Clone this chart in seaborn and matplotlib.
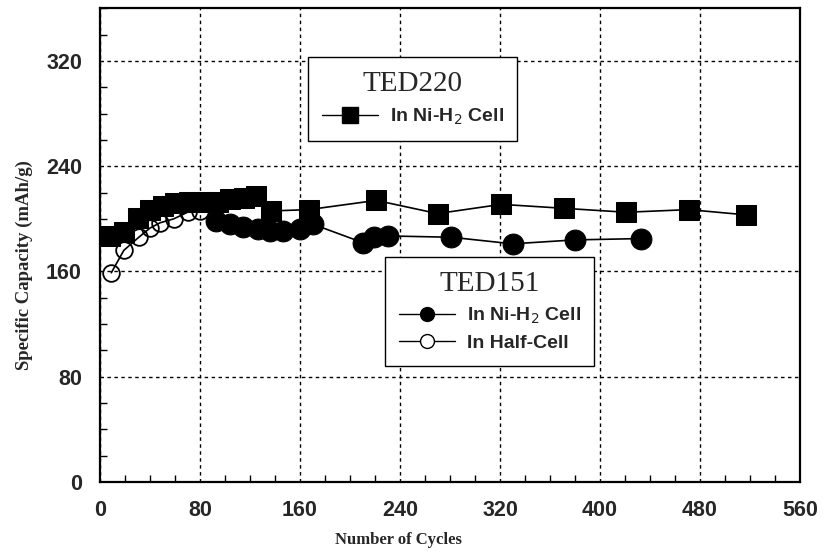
import numpy as np
import pandas as pd
import matplotlib
matplotlib.use("Agg")
import matplotlib.pyplot as plt
import seaborn as sns
from matplotlib.ticker import MultipleLocator
from matplotlib.lines import Line2D

# TED220 - In Ni-H2 Cell (squares)
ted220_cycles = [8, 19, 30, 40, 50, 60, 71, 82, 94, 104, 115, 125, 137, 167, 221, 270, 321, 371, 421, 471, 517]
ted220_capacity = [187, 190, 201, 207, 210, 212, 213, 213, 213, 215, 216, 217, 206, 207, 214, 204, 211, 208, 205, 207, 203]

# TED151 - In Ni-H2 Cell (filled circles)
ted151_nih2_cycles = [93, 104, 114, 126, 136, 146, 160, 170, 210, 219, 230, 281, 330, 380, 433]
ted151_nih2_capacity = [198, 196, 194, 192, 191, 191, 192, 196, 182, 186, 187, 186, 181, 184, 185]

# TED151 - In Half-Cell (open circles)
ted151_half_cycles = [9, 19, 31, 40, 48, 59, 70, 80]
ted151_half_capacity = [159, 176, 186, 193, 197, 200, 205, 206]

df220 = pd.DataFrame({'cycles': ted220_cycles, 'capacity': ted220_capacity})
df151 = pd.DataFrame({'cycles': ted151_nih2_cycles, 'capacity': ted151_nih2_capacity})
dfhalf = pd.DataFrame({'cycles': ted151_half_cycles, 'capacity': ted151_half_capacity})

sns.set_style('white')
plt.rcParams['font.family'] = ['Liberation Sans', 'DejaVu Sans']

fig = plt.figure(figsize=(8.24, 5.54), dpi=100)
ax = fig.add_axes([0.1214, 0.13, 0.8495, 0.855])

sns.lineplot(data=dfhalf, x='cycles', y='capacity', ax=ax, color='black', lw=1.2,
             marker='o', markersize=12, markerfacecolor='none', markeredgecolor='black',
             markeredgewidth=1.3, estimator=None, zorder=3)
sns.lineplot(data=df151, x='cycles', y='capacity', ax=ax, color='black', lw=1.2,
             marker='o', markersize=15, markerfacecolor='black', markeredgecolor='black',
             estimator=None, zorder=4)
sns.lineplot(data=df220, x='cycles', y='capacity', ax=ax, color='black', lw=1.2,
             marker='s', markersize=14, markerfacecolor='black', markeredgecolor='black',
             estimator=None, zorder=5)

ax.set_xlim(0, 560)
ax.set_ylim(0, 360)
ax.xaxis.set_major_locator(MultipleLocator(80))
ax.xaxis.set_minor_locator(MultipleLocator(20))
ax.yaxis.set_major_locator(MultipleLocator(80))
ax.yaxis.set_minor_locator(MultipleLocator(20))
ax.set_yticks([0, 80, 160, 240, 320])

ax.grid(True, which='major', color='black', linestyle=(0, (2.5, 2.5)), linewidth=1)
ax.tick_params(which='both', direction='in', color='black', top=False, right=False,
               bottom=True, left=True)
ax.tick_params(which='major', length=0, labelsize=15.5, pad=13)
ax.tick_params(which='minor', length=5, width=1)
for lbl in ax.get_xticklabels() + ax.get_yticklabels():
    lbl.set_fontweight('bold')
for sp in ax.spines.values():
    sp.set_color('black')
    sp.set_linewidth(1.6)

ax.set_xlabel('Number of Cycles', family='Liberation Serif', fontweight='bold', fontsize=12)
ax.set_ylabel('Specific Capacity (mAh/g)', family='Liberation Serif', fontweight='bold', fontsize=13.5)
ax.xaxis.set_label_coords(0.427, -0.1055)
ax.yaxis.set_label_coords(-0.096, 0.458)

# Legends
h220 = [Line2D([], [], color='black', lw=1, marker='s', markersize=11.5,
               markerfacecolor='black')]
leg1 = ax.legend(h220, ['In Ni-H$_2$ Cell'], loc='upper left',
                 bbox_to_anchor=(0.297, 0.8966), borderaxespad=0, frameon=True, fancybox=False,
                 edgecolor='black', framealpha=1, handlelength=2.9, handletextpad=0.6,
                 borderpad=0.7, prop={'family': 'Liberation Sans', 'weight': 'bold', 'size': 14},
                 title='TED220', title_fontproperties={'family': 'Liberation Serif', 'size': 21})
leg1.get_frame().set_linewidth(1)
ax.add_artist(leg1)

h151 = [Line2D([], [], color='black', lw=1, marker='o', markersize=10,
               markerfacecolor='black'),
        Line2D([], [], color='black', lw=1, marker='o', markersize=10,
               markerfacecolor='white')]
leg2 = ax.legend(h151, ['In Ni-H$_2$ Cell', 'In Half-Cell'], loc='upper left',
                 bbox_to_anchor=(0.407, 0.4747), borderaxespad=0, frameon=True, fancybox=False,
                 edgecolor='black', framealpha=1, handlelength=2.9, handletextpad=0.6,
                 labelspacing=0.45, borderpad=0.7,
                 prop={'family': 'Liberation Sans', 'weight': 'bold', 'size': 14},
                 title='TED151', title_fontproperties={'family': 'Liberation Serif', 'size': 21})
leg2.get_frame().set_linewidth(1)

fig.savefig('out.png', dpi=100)
